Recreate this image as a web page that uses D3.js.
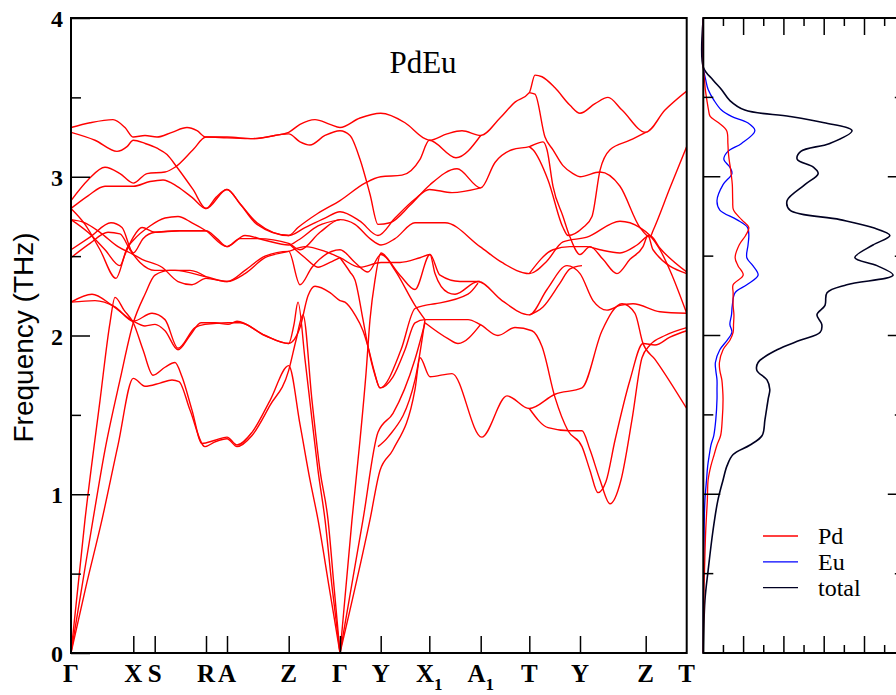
<!DOCTYPE html>
<html>
<head>
<meta charset="utf-8">
<script src="https://cdn.jsdelivr.net/npm/d3@7"></script>
<style>
  html, body { margin: 0; padding: 0; background: #fff; }
  svg { display: block; }
</style>
</head>
<body>
<svg id="chart" width="896" height="695"></svg>
<script>
// ---- high-symmetry path (path length coordinate) ----
const kPoints = [0, 0.623, 0.837, 1.35, 1.56, 2.177, 2.69, 3.097, 3.583, 4.097, 4.583, 5.09, 5.747, 6.157];
const kLabels = [["Γ"], ["X"], ["S"], ["R"], ["A"], ["Z"], ["Γ"], ["Y"], ["X", "1"], ["A", "1"], ["T"], ["Y"], ["Z"], ["T"]];
const freqTicks = [0, 1, 2, 3, 4];
const title = "PdEu";

// ---- phonon branches: [k, frequency (THz)] ----
const upperBands = [
  [[0,3.31],[0.19,3.34],[0.42,3.36],[0.54,3.31],[0.623,3.25],[0.74,3.26],[0.86,3.25],[1.01,3.28],[1.16,3.31],[1.26,3.29],[1.35,3.25],[1.56,3.25],[1.82,3.24],[2.04,3.26],[2.177,3.28],[2.29,3.33],[2.44,3.36],[2.59,3.33],[2.69,3.31],
   [2.89,3.37],[3.097,3.40],[3.34,3.34],[3.54,3.24],[3.583,3.23],[3.76,3.27],[3.91,3.29],[4.097,3.26],[4.29,3.37],[4.44,3.47],[4.583,3.53],[4.64,3.64],[4.71,3.63],[4.84,3.56],[4.99,3.45],[5.09,3.40],[5.24,3.46],[5.37,3.50],[5.51,3.42],[5.747,3.28],[5.94,3.42],[6.157,3.54]],
  [[0,3.28],[0.24,3.23],[0.46,3.16],[0.56,3.19],[0.623,3.23],[0.74,3.21],[0.86,3.18],[0.96,3.14],[1.06,3.06],[1.22,2.92],[1.35,2.80],[1.45,2.87],[1.56,2.92],[1.69,2.83],[1.86,2.71],[2.177,2.63],[2.27,2.68],[2.47,2.77],[2.69,2.85],
   [2.94,2.96],[3.097,3.00],[3.31,3.01],[3.49,3.11],[3.583,3.23],[3.85,3.12],[4.097,3.26]],
  [[0,2.85],[0.17,2.98],[0.34,3.06],[0.49,3.02],[0.623,2.96],[0.76,3.02],[0.94,3.03],[1.04,3.06],[1.22,3.17],[1.35,3.25],[1.56,3.245],[1.82,3.24],[2.177,3.27],[2.29,3.22],[2.39,3.20],[2.54,3.26],[2.69,3.29],
   [2.79,3.26],[2.89,3.11],[2.99,2.89],[3.07,2.70],[3.19,2.71],[3.39,2.82],[3.59,2.95],[3.86,3.05],[4.097,2.93],[4.24,3.09],[4.41,3.17],[4.583,3.19],[4.72,3.22],[4.76,3.17],[4.82,2.94],[4.92,2.75],[4.99,2.62],[5.09,2.51],[5.19,2.56],[5.32,2.48],[5.46,2.39],[5.59,2.48],[5.72,2.56],[5.77,2.63],[5.82,2.54],[6.157,2.39]],
  [[4.583,3.53],[4.64,3.52],[4.74,3.25],[4.82,3.17],[4.92,3.07],[5.02,3.02],[5.09,3.00],[5.29,3.03],[5.49,2.94],[5.69,2.68],[5.79,2.62],[5.82,2.66],[5.99,2.93],[6.157,3.19]],
  [[4.583,3.19],[4.62,3.17],[4.77,2.98],[4.92,2.68],[4.97,2.63],[5.12,2.68],[5.21,2.75],[5.29,3.04],[5.39,3.17],[5.59,3.23],[5.747,3.28]]
];

const middleBands = [
  [[0,2.80],[0.17,2.88],[0.34,2.94],[0.623,2.94],[0.79,2.97],[0.92,2.98],[1.06,2.94],[1.21,2.87],[1.35,2.80],[1.56,2.92],[1.69,2.83],[1.86,2.70],[2.177,2.63],[2.34,2.68],[2.54,2.74],[2.69,2.78],
   [2.89,2.72],[3.07,2.63],[3.24,2.74],[3.44,2.86],[3.583,2.92],[3.81,2.90],[4.097,2.93]],
  [[0,2.80],[0.14,2.70],[0.29,2.54],[0.45,2.36],[0.54,2.51],[0.623,2.62],[0.71,2.68],[0.84,2.65],[1.09,2.66],[1.35,2.66],[1.46,2.61],[1.56,2.56],[1.69,2.61],[1.87,2.61],[2.177,2.58],[2.29,2.54],[2.49,2.65],[2.69,2.73],
   [2.84,2.70],[2.99,2.61],[3.10,2.57],[3.24,2.61],[3.44,2.71],[3.74,2.71],[4.09,2.56],[4.31,2.46],[4.583,2.39],[4.76,2.47],[4.92,2.59],[5.16,2.62],[5.49,2.72],[5.69,2.68],[5.79,2.63],[5.89,2.54],[5.99,2.41],[6.157,2.14]],
  [[0,2.73],[0.17,2.65],[0.34,2.54],[0.49,2.44],[0.56,2.55],[0.623,2.60],[0.79,2.69],[0.94,2.74],[1.07,2.75],[1.21,2.71],[1.35,2.66],[1.56,2.56],[1.74,2.63],[1.94,2.60],[2.177,2.57],[2.27,2.60],[2.47,2.69],[2.69,2.73]],
  [[0,2.54],[0.19,2.62],[0.40,2.71],[0.51,2.68],[0.623,2.52],[0.72,2.61],[0.84,2.65],[1.09,2.66],[1.35,2.66]],
  [[0,2.73],[0.14,2.71],[0.29,2.65],[0.47,2.56],[0.623,2.51],[0.71,2.48],[0.91,2.43],[1.07,2.34],[1.21,2.32],[1.35,2.36],[1.56,2.34],[1.74,2.41],[1.94,2.50],[2.177,2.53],[2.29,2.32],[2.41,2.43],[2.69,2.54],
   [2.84,2.46],[2.97,2.40],[3.10,2.51],[3.29,2.38],[3.44,2.29],[3.59,2.51],[3.64,2.39],[3.77,2.27],[3.84,2.26],[4.07,2.34],[4.31,2.22],[4.583,2.13],[4.76,2.29],[4.96,2.44],[5.09,2.39],[5.22,2.22],[5.36,2.16],[5.49,2.19],[5.62,2.20],[5.89,2.15],[6.157,2.14]],
  [[0,2.49],[0.19,2.58],[0.37,2.65],[0.49,2.64],[0.59,2.54],[0.69,2.46],[0.84,2.41],[1.04,2.41],[1.35,2.37],[1.56,2.34],[1.74,2.39],[1.94,2.49],[2.177,2.53],[2.34,2.56],[2.54,2.53],[2.69,2.49],
   [2.89,2.43],[3.10,2.46],[3.29,2.46],[3.49,2.49],[3.59,2.51],[3.69,2.38],[3.89,2.34],[4.09,2.34]],
  [[2.177,2.58],[2.34,2.49],[2.47,2.43],[2.59,2.46],[2.69,2.49]],
  [[4.583,2.39],[4.82,2.54],[4.99,2.56],[5.16,2.56],[5.29,2.54],[5.49,2.52],[5.66,2.57],[5.79,2.63],[5.89,2.55],[6.157,2.40]],
  [[4.583,2.13],[4.72,2.18],[4.89,2.33],[4.99,2.42],[5.11,2.44]]
];

const lowerBands = [
  [[0,2.21],[0.21,2.26],[0.41,2.19],[0.623,2.09],[0.74,2.06],[0.84,2.07],[0.94,2.03],[1.07,1.91],[1.19,2.00],[1.30,2.08],[1.44,2.08],[1.57,2.07],[1.66,2.09],[1.94,2.00],[2.177,1.95],[2.23,2.07],[2.27,2.21],[2.34,1.85],[2.41,1.47],[2.47,1.15],[2.54,0.84],[2.61,0.42],[2.69,0]],
  [[0,2.21],[0.24,2.22],[0.44,2.18],[0.623,2.09],[0.81,2.14],[0.94,2.10],[1.07,1.92],[1.24,2.05],[1.34,2.07],[1.57,2.08],[1.69,2.08],[1.94,2.00],[2.177,1.95],[2.29,2.05],[2.37,2.25],[2.44,2.31],[2.59,2.27],[2.69,2.22],
   [2.74,2.21],[2.84,2.13],[2.92,2.03],[2.97,1.93],[3.03,1.78],[3.09,1.67],[3.22,1.74],[3.34,1.91],[3.44,2.08],[3.54,2.10],[3.64,2.10],[3.97,2.10],[4.09,2.07],[4.27,2.00],[4.44,2.05],[4.61,2.03],[4.71,1.93],[4.84,1.61],[4.97,1.40],[5.11,1.30],[5.19,1.15],[5.27,1.01],[5.35,1.08],[5.44,1.34],[5.59,1.72],[5.72,1.95],[5.84,1.94],[5.99,1.99],[6.157,2.03]],
  [[3.54,2.08],[3.77,1.98],[3.87,1.95],[4.097,2.07]],
  [[2.69,2.49],[2.79,2.40],[2.84,2.35],[2.92,2.10],[2.97,1.93],[3.04,1.75],[3.09,1.67],[3.30,1.91],[3.44,2.17],[3.54,2.19],[3.64,2.20],[3.97,2.26],[4.07,2.33]],
  [[4.583,1.54],[4.77,1.42],[4.99,1.40],[5.11,1.40],[5.19,1.28],[5.29,1.09],[5.39,0.94],[5.50,1.09],[5.61,1.47],[5.71,1.86],[5.79,1.94],[5.94,2.00],[6.157,2.05]]
];

const acousticBands = [
  [[0,0],[0.14,0.84],[0.29,1.59],[0.39,2.08],[0.44,2.24],[0.53,2.16],[0.623,2.08],[0.72,1.91],[0.82,1.75],[0.94,1.80],[1.04,1.83],[1.11,1.74],[1.21,1.53],[1.31,1.32],[1.44,1.34],[1.56,1.36],[1.66,1.31],[1.81,1.39],[1.99,1.59],[2.177,1.81],[2.29,1.44],[2.39,1.09],[2.47,0.84],[2.58,0.42],[2.69,0]],
  [[0,0],[0.11,0.42],[0.22,0.84],[0.34,1.28],[0.49,1.72],[0.623,2.08],[0.74,2.26],[0.84,2.38],[0.99,2.41],[1.19,2.41],[1.35,2.37]],
  [[0,0],[0.15,0.42],[0.31,0.84],[0.47,1.31],[0.623,1.73],[0.74,1.68],[0.89,1.70],[1.01,1.72],[1.08,1.71],[1.19,1.53],[1.34,1.30],[1.44,1.33],[1.56,1.35],[1.66,1.30],[1.81,1.37],[1.99,1.56],[2.177,1.78],[2.25,1.97],[2.32,2.13],[2.41,1.59],[2.49,1.15],[2.57,0.84],[2.63,0.42],[2.69,0]],
  [[2.69,0],[2.81,0.84],[2.89,1.34],[2.95,1.76],[2.99,2.10],[3.04,2.35],[3.10,2.52],[3.24,2.41],[3.44,2.19],[3.54,2.10]],
  [[2.69,0],[2.92,0.84],[3.07,1.39],[3.22,1.51],[3.44,1.85],[3.54,2.08]],
  [[3.07,1.30],[3.17,1.36],[3.44,1.72],[3.54,2.10]],
  [[2.69,0],[2.99,0.84],[3.09,1.15],[3.22,1.28],[3.44,1.66],[3.49,1.86],[3.59,1.74],[3.81,1.76],[4.107,1.36],[4.36,1.62],[4.583,1.54],[4.84,1.63],[5.11,1.67],[5.31,2.03],[5.51,2.20],[5.64,2.14],[5.72,1.95],[5.84,1.85],[6.157,1.54]]
];

// ---- phonon density of states ----
const dosFreq  = [0, 0.33, 0.52, 0.77, 0.96, 1.09, 1.18, 1.25, 1.31, 1.37, 1.47, 1.60, 1.66, 1.72, 1.78, 1.83, 1.91, 1.97, 2.02, 2.07, 2.13, 2.19, 2.27, 2.32, 2.38, 2.44, 2.49, 2.57, 2.63, 2.68, 2.73, 2.79, 2.85, 2.95, 3.02, 3.06, 3.11, 3.16, 3.21, 3.29, 3.34, 3.38, 3.42, 3.48, 3.55, 3.61, 3.69, 4.00];
const dosTotal = [0, 0.04, 0.12, 0.24, 0.36, 0.49, 0.59, 0.74, 1.16, 1.46, 1.53, 1.61, 1.65, 1.58, 1.33, 1.36, 1.83, 2.40, 2.90, 2.94, 2.82, 3.02, 3.07, 3.56, 4.71, 4.31, 3.76, 4.21, 4.63, 4.20, 3.39, 2.15, 2.08, 2.52, 2.85, 2.73, 2.33, 2.42, 3.14, 3.69, 3.00, 2.15, 1.03, 0.66, 0.45, 0.24, 0, 0];
const dosPd    = [0, 0.01, 0.03, 0.06, 0.10, 0.12, 0.19, 0.27, 0.34, 0.43, 0.47, 0.49, 0.48, 0.46, 0.41, 0.40, 0.49, 0.66, 0.74, 0.75, 0.76, 0.74, 0.74, 0.74, 0.99, 0.86, 0.79, 0.89, 1.05, 1.13, 0.95, 0.75, 0.73, 0.72, 0.69, 0.67, 0.64, 0.62, 0.61, 0.58, 0.38, 0.17, 0.13, 0.09, 0.05, 0.03, 0, 0];
const dosEu    = [0, 0, 0.01, 0.02, 0.04, 0.08, 0.11, 0.15, 0.19, 0.26, 0.31, 0.34, 0.34, 0.34, 0.31, 0.30, 0.41, 0.59, 0.71, 0.66, 0.70, 0.72, 0.79, 1.08, 1.36, 1.23, 1.08, 1.11, 1.13, 1.10, 0.83, 0.41, 0.34, 0.49, 0.71, 0.66, 0.51, 0.61, 0.95, 1.28, 1.10, 0.70, 0.45, 0.27, 0.12, 0.06, 0, 0];
const legendNames = ["Pd", "Eu", "total"];

// ---- layout ----
const svg = d3.select("#chart");
const band = { left: 71, right: 686.7, top: 18, bottom: 653 };
const dosBox = { left: 703.3, right: 904.8 };
const RED = "#ff0000", BLUE = "#0000ff", DARK = "#000022";
const serif = "'Liberation Serif', 'Times New Roman', serif";

const x = d3.scaleLinear().domain([0, kPoints[kPoints.length - 1]]).range([band.left, band.right]);
const y = d3.scaleLinear().domain([0, 4]).range([band.bottom, band.top]);
const xd = d3.scaleLinear().domain([0, 5]).range([dosBox.left, dosBox.right]);

svg.append("defs").append("clipPath").attr("id", "bandClip")
  .append("rect").attr("x", band.left).attr("y", band.top)
  .attr("width", band.right - band.left).attr("height", band.bottom - band.top);

// dispersion curves
const line = d3.line().x(d => x(d[0])).y(d => y(d[1])).curve(d3.curveMonotoneX);
const gBands = svg.append("g").attr("clip-path", "url(#bandClip)");
[upperBands, middleBands, lowerBands, acousticBands].forEach(group => {
  gBands.selectAll(null).data(group).enter().append("path")
    .attr("d", line).attr("fill", "none").attr("stroke", RED).attr("stroke-width", 1.4);
});

// frequency axis (left) with minor ticks
const yAxis = d3.axisLeft(y).tickValues(freqTicks).tickSize(19).tickFormat(d3.format("d"));
const yMinor = d3.axisLeft(y).tickValues(d3.range(0.5, 4, 1)).tickSize(10).tickFormat("");
svg.append("g").attr("transform", `translate(${band.left},0)`).call(yMinor)
  .call(g => g.select(".domain").remove())
  .call(g => g.selectAll("line").attr("x2", 10).attr("stroke-width", 1.5));
const gy = svg.append("g").attr("transform", `translate(${band.left},0)`).call(yAxis);
gy.select(".domain").remove();
gy.selectAll("line").attr("x2", 19).attr("stroke-width", 1.5);
gy.selectAll("text").attr("x", -8).attr("dy", "0.36em")
  .attr("font-family", serif).attr("font-weight", "bold").attr("font-size", 24).attr("fill", "#000");

// high-symmetry ticks and labels
const xAxis = d3.axisBottom(x).tickValues(kPoints.slice(1, -1)).tickSize(17).tickFormat("");
svg.append("g").attr("transform", `translate(0,${band.bottom})`).call(xAxis)
  .call(g => g.select(".domain").remove())
  .call(g => g.selectAll("line").attr("y2", -17).attr("stroke-width", 1.5));
const labels = svg.append("g").attr("font-family", serif).attr("font-weight", "bold")
  .attr("font-size", 25).attr("text-anchor", "middle");
kLabels.forEach((parts, i) => {
  const t = labels.append("text").attr("x", x(kPoints[i])).attr("y", band.bottom + 29);
  t.append("tspan").text(parts[0]);
  if (parts[1]) t.append("tspan").attr("font-size", 17).attr("dy", 8).text(parts[1]);
});

// frame of the dispersion panel
svg.append("rect").attr("x", band.left).attr("y", band.top)
  .attr("width", band.right - band.left).attr("height", band.bottom - band.top)
  .attr("fill", "none").attr("stroke", "#000").attr("stroke-width", 2);

// title
svg.append("text").attr("x", x(3.52)).attr("y", 73).attr("text-anchor", "middle")
  .attr("font-family", serif).attr("font-size", 31).text(title);

// axis label
svg.append("text").attr("transform", `translate(33,${(band.top + band.bottom) / 2 + 2}) rotate(-90)`)
  .attr("text-anchor", "middle").attr("font-family", "'Liberation Sans', Arial, sans-serif")
  .attr("font-size", 28).text("Frequency (THz)");

// ---- DOS panel ----
const dosLine = vals => d3.line().x((d, i) => xd(vals[i])).y(d => y(d)).curve(d3.curveCatmullRom.alpha(0.5))(dosFreq);
const gDos = svg.append("g");
gDos.append("path").attr("d", dosLine(dosTotal)).attr("fill", "none").attr("stroke", DARK).attr("stroke-width", 1.6);
gDos.append("path").attr("d", dosLine(dosEu)).attr("fill", "none").attr("stroke", BLUE).attr("stroke-width", 1.3);
gDos.append("path").attr("d", dosLine(dosPd)).attr("fill", "none").attr("stroke", RED).attr("stroke-width", 1.3);

// DOS ticks: frequency on both sides, density on top and bottom
const dl = svg.append("g").attr("stroke", "#000").attr("stroke-width", 1.5);
d3.range(0.5, 4, 0.5).forEach(f => {
  const len = Number.isInteger(f) ? 17 : 10;
  dl.append("line").attr("x1", dosBox.left).attr("x2", dosBox.left + len).attr("y1", y(f)).attr("y2", y(f));
  dl.append("line").attr("x1", dosBox.right).attr("x2", dosBox.right - len).attr("y1", y(f)).attr("y2", y(f));
});
d3.range(0.5, 5, 0.5).forEach(v => {
  const len = Number.isInteger(v) ? 17 : 8;
  dl.append("line").attr("x1", xd(v)).attr("x2", xd(v)).attr("y1", band.bottom).attr("y2", band.bottom - len);
  dl.append("line").attr("x1", xd(v)).attr("x2", xd(v)).attr("y1", band.top).attr("y2", band.top + len);
});
svg.append("rect").attr("x", dosBox.left).attr("y", band.top)
  .attr("width", dosBox.right - dosBox.left).attr("height", band.bottom - band.top)
  .attr("fill", "none").attr("stroke", "#000").attr("stroke-width", 2);

// legend
const legColors = [RED, BLUE, DARK];
const leg = svg.append("g").attr("font-family", serif).attr("font-size", 24);
legendNames.forEach((name, i) => {
  const yy = 536 + i * 25.8;
  leg.append("line").attr("x1", 763).attr("x2", 798).attr("y1", yy).attr("y2", yy)
    .attr("stroke", legColors[i]).attr("stroke-width", 1.3);
  leg.append("text").attr("x", 818).attr("y", yy + 8).text(name);
});
</script>
</body>
</html>
